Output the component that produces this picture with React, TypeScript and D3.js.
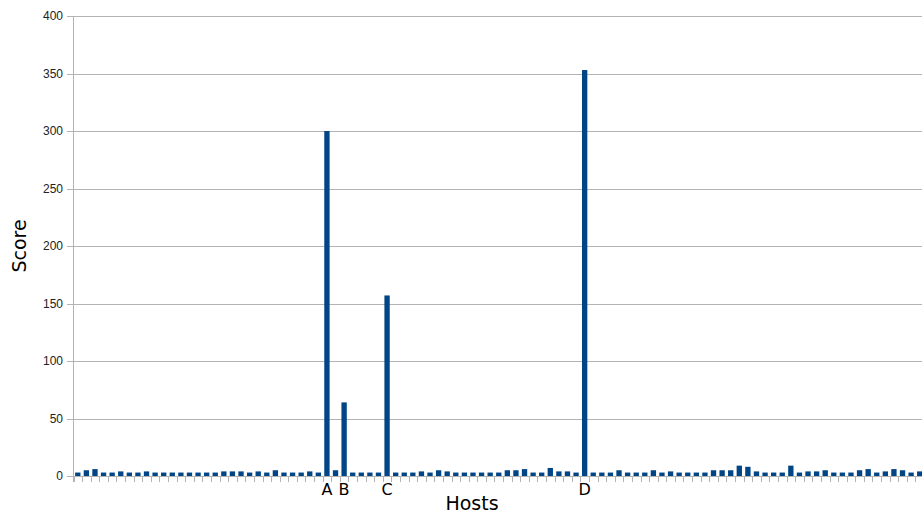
import * as d3 from "d3";

// scores per host, left to right
const scores = [
  3, 5, 6, 3, 3, 4, 3, 3, 4, 3, 3, 3, 3, 3, 3, 3, 3, 4, 4, 4,
  3, 4, 3, 5, 3, 3, 3, 4, 3, 300, 5, 64, 3, 3, 3, 3, 157, 3, 3, 3,
  4, 3, 5, 4, 3, 3, 3, 3, 3, 3, 5, 5, 6, 3, 3, 7, 4, 4, 3, 353,
  3, 3, 3, 5, 3, 3, 3, 5, 3, 4, 3, 3, 3, 3, 5, 5, 5, 9, 8, 4,
  3, 3, 3, 9, 3, 4, 4, 5, 3, 3, 3, 5, 6, 3, 4, 6, 5, 3, 4,
];
const hostNames = ["A", "B", "C", "D"];
const hostIndex = [29, 31, 36, 59];
const yTicks = [0, 50, 100, 150, 200, 250, 300, 350, 400];

const W = 922;
const H = 515;
const left = 73.5;
const right = 924;
const top = 16;
const bottom = 476;

const barColor = "#004586";
const gridColor = "#b3b3b3";

export default function App() {
  const cats = scores.map((_, i) => i);
  const x = d3.scaleBand<number>().domain(cats).range([left, right]).paddingInner(0.38).paddingOuter(0.19);
  const y = d3.scaleLinear().domain([0, 400]).range([bottom, top]);
  const bounds = d3.range(scores.length + 1).map((i) => left + i * x.step());

  return (
    <svg
      width={W}
      height={H}
      style={{ position: "absolute", left: 0, top: 0, background: "#fff" }}
      fontFamily="'Liberation Sans', Arial, sans-serif"
    >
      {/* grid + y ticks */}
      {yTicks.map((t) => (
        <g key={t}>
          <line x1={67} x2={W} y1={Math.round(y(t)) + 0.5} y2={Math.round(y(t)) + 0.5} stroke={gridColor} />
          <text x={63} y={y(t)} dy="0.35em" textAnchor="end" fontSize={12} fill="#222">
            {t}
          </text>
        </g>
      ))}
      <line x1={left} x2={left} y1={top} y2={bottom + 6} stroke={gridColor} />
      {/* category ticks */}
      {bounds.map((bx, i) => (
        <line key={i} x1={Math.round(bx) + 0.5} x2={Math.round(bx) + 0.5} y1={bottom} y2={bottom + 6} stroke={gridColor} />
      ))}
      {/* bars */}
      {scores.map((v, i) => (
        <rect key={i} x={x(i)!} y={y(v)} width={x.bandwidth()} height={bottom - y(v)} fill={barColor} />
      ))}
      {/* labelled hosts */}
      {hostNames.map((n, k) => (
        <text
          key={n}
          x={x(hostIndex[k])! + x.bandwidth() / 2}
          y={495}
          textAnchor="middle"
          fontSize={16}
          fontFamily="'DejaVu Sans', sans-serif"
          fill="#000"
        >
          {n}
        </text>
      ))}
      <text x={472} y={510} textAnchor="middle" fontSize={19} fontFamily="'DejaVu Sans', sans-serif" fill="#000">
        Hosts
      </text>
      <text
        transform={`translate(26,${(top + bottom) / 2}) rotate(-90)`}
        textAnchor="middle"
        fontSize={19}
        fontFamily="'DejaVu Sans', sans-serif"
        fill="#000"
      >
        Score
      </text>
    </svg>
  );
}
